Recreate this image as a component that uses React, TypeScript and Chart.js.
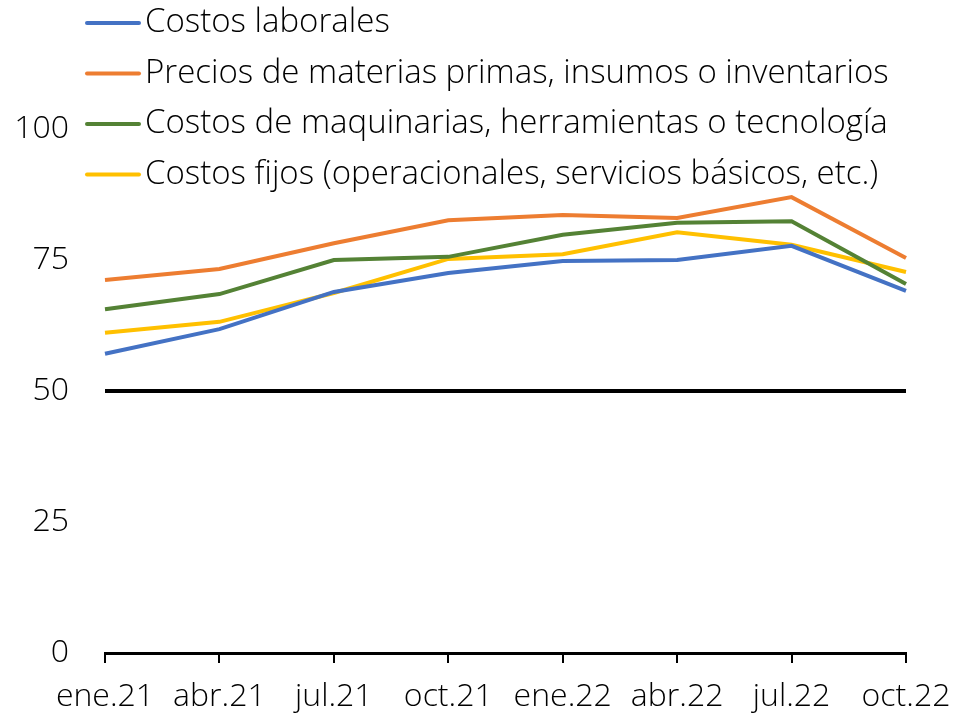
import React, { useEffect, useRef } from "react";
import { Chart, registerables } from "chart.js";

Chart.register(...registerables);

const categories = ["ene.21", "abr.21", "jul.21", "oct.21", "ene.22", "abr.22", "jul.22", "oct.22"];
const laborales = [57.1, 61.8, 68.9, 72.5, 74.8, 75.0, 77.7, 69.1];
const materias = [71.2, 73.3, 78.2, 82.6, 83.6, 83.0, 87.0, 75.4];
const maquinarias = [65.6, 68.5, 75.0, 75.6, 79.8, 82.1, 82.4, 70.4];
const fijos = [61.1, 63.2, 68.7, 75.2, 76.1, 80.3, 77.9, 72.7];
const threshold = [50, 50, 50, 50, 50, 50, 50, 50];
const yTicks = [0, 25, 50, 75, 100];

const FONT = "'Open Sans', sans-serif";

const legendPlugin = {
  id: "customLegend",
  afterDraw(chart: any) {
    const ctx = chart.ctx;
    ctx.save();
    ctx.font = `300 33px ${FONT}`;
    ctx.textBaseline = "middle";
    ctx.textAlign = "left";
    const items = chart.data.datasets.filter((d: any) => d.label);
    items.forEach((d: any, i: number) => {
      const y = 23 + i * 50.5;
      ctx.strokeStyle = d.borderColor;
      ctx.lineWidth = 4;
      ctx.lineCap = "round";
      ctx.beginPath();
      ctx.moveTo(87, y);
      ctx.lineTo(139, y);
      ctx.stroke();
      ctx.fillStyle = "#000";
      ctx.fillText(d.label, 145, y);
    });
    ctx.restore();
  },
};

export default function App() {
  const ref = useRef<HTMLCanvasElement>(null);
  useEffect(() => {
    document.body.style.margin = "0";
    const mk = (label: string, data: number[], color: string, w = 4) => ({
      label,
      data,
      borderColor: color,
      backgroundColor: color,
      borderWidth: w,
      pointRadius: 0,
      tension: 0,
      fill: false,
    });
    const chart = new Chart(ref.current!, {
      type: "line",
      data: {
        labels: categories,
        datasets: [
          mk("Costos laborales", laborales, "#4472C4"),
          mk("Precios de materias primas, insumos o inventarios", materias, "#ED7D31"),
          mk("Costos de maquinarias, herramientas o tecnología", maquinarias, "#548235"),
          mk("Costos fijos (operacionales, servicios básicos, etc.)", fijos, "#FFC000"),
          { ...mk("", threshold, "#000000", 4), order: 10 },
        ],
      },
      options: {
        animation: false,
        responsive: false,
        maintainAspectRatio: false,
        layout: { padding: { top: 129, right: 0, left: 0, bottom: 0 } },
        plugins: { legend: { display: false }, tooltip: { enabled: false } },
        scales: {
          x: {
            offset: false,
            grid: { display: true, drawOnChartArea: false, drawTicks: true, tickLength: 10, color: "#000", lineWidth: 2 },
            border: { display: true, color: "#000", width: 3 },
            ticks: { color: "#000", font: { family: FONT, size: 32, weight: "300" }, padding: 15, maxRotation: 0, autoSkip: false },
            afterFit: (s: any) => { s.height = 65; s.paddingRight = 50; s.paddingLeft = 0; },
          },
          y: {
            min: 0,
            max: 100,
            grid: { display: false },
            border: { display: false },
            afterBuildTicks: (s: any) => { s.ticks = yTicks.map((v) => ({ value: v })); },
            ticks: { color: "#000", font: { family: FONT, size: 32, weight: "300" }, padding: 28 },
            afterFit: (s: any) => { s.width = 105; s.paddingTop = 0; s.paddingBottom = 0; },
          },
        },
      },
      plugins: [legendPlugin],
    });
    return () => chart.destroy();
  }, []);
  return <canvas ref={ref} width={956} height={718} style={{ display: "block" }} />;
}
